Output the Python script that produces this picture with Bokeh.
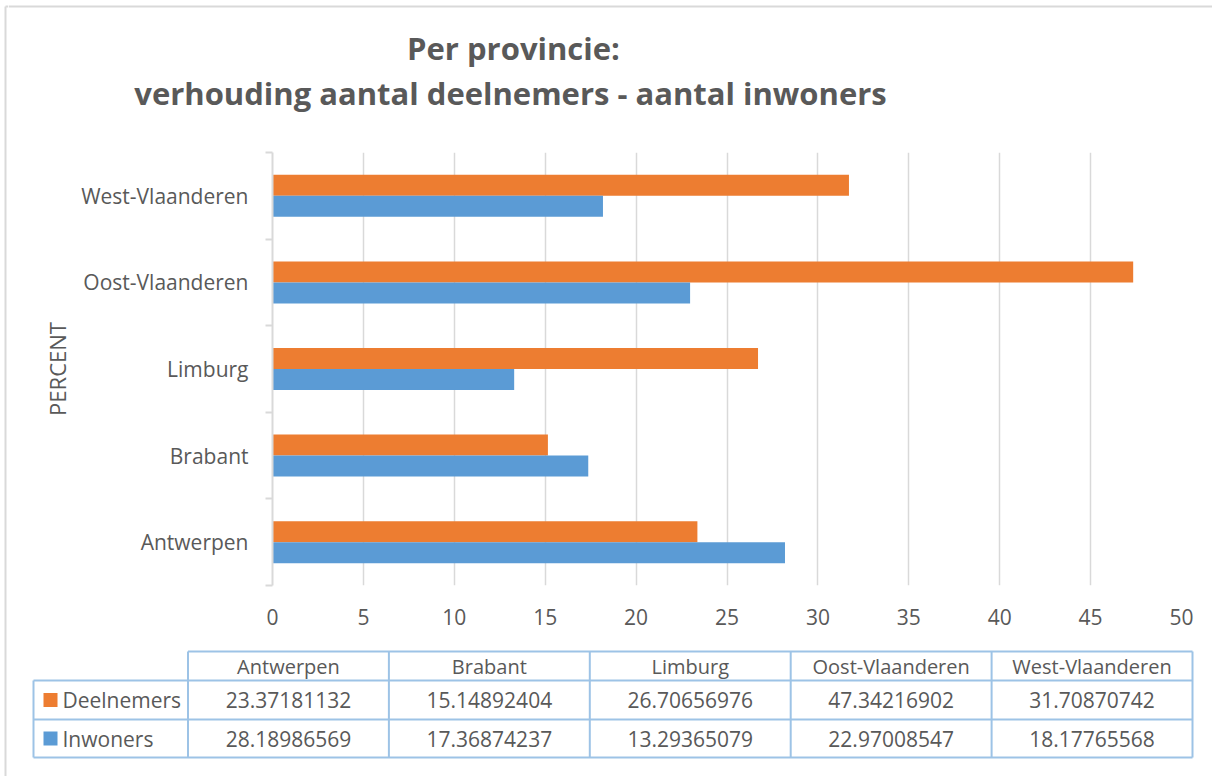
import math
from bokeh.plotting import figure
from bokeh.layouts import column, row
from bokeh.models import ColumnDataSource, Range1d, FixedTicker
from bokeh.transform import dodge
from bokeh.core.properties import value
from bokeh.embed import file_html
from bokeh.resources import INLINE

# ---------------- data ----------------
provinces = ["Antwerpen", "Brabant", "Limburg", "Oost-Vlaanderen", "West-Vlaanderen"]
deelnemers = [23.37181132, 15.14892404, 26.70656976, 47.34216902, 31.70870742]
inwoners = [28.18986569, 17.36874237, 13.29365079, 22.97008547, 18.17765568]
series_names = ["Deelnemers", "Inwoners"]
x_ticks = list(range(0, 51, 5))
title_lines = ["Per provincie:", "verhouding aantal deelnemers - aantal inwoners"]
y_axis_title = "PERCENT"

ORANGE = "#ED7D31"
BLUE = "#5B9BD5"
TEXT = "#595959"
GRID = "#D9D9D9"
EDGE = "#D9D9D9"
TBL = "#9DC3E6"
FONT = "Open Sans"

PW = 1212            # page width used
OX = 8               # width of the left strip carrying the chart-area border
W = PW - OX          # width of the main column
H0, H1, H2 = 140, 500, 136   # title band, chart band, table band
HT = H0 + H1 + H2


def blank(w, h):
    f = figure(width=w, height=h, output_backend="svg", toolbar_location=None,
               x_range=Range1d(0, w), y_range=Range1d(h, 0), min_border=0,
               outline_line_color=None, x_axis_location=None, y_axis_location=None,
               background_fill_color="white", border_fill_color="white",
               frame_align=False)
    f.xgrid.visible = False
    f.ygrid.visible = False
    return f


def gx(px):   # page x -> x inside the main column
    return px - OX


# ---------------- left strip (outer chart border) ----------------
strip = blank(OX, HT)
strip.segment(x0=[5, 5], y0=[6, 6], x1=[5, OX], y1=[HT, 6], line_color=EDGE, line_width=2)

# ---------------- title band ----------------
tt = blank(W, H0)
tt.segment(x0=[0], y0=[6], x1=[W], y1=[6], line_color=EDGE, line_width=2)
tt.text(x=[gx(513), gx(510)], y=[47, 92], text=title_lines, text_align="center",
        text_baseline="alphabetic", text_font=value(FONT), text_font_style="bold",
        text_font_size="31px", text_color=TEXT)

# ---------------- chart band ----------------
FL, FR, FT, FB = 272, 1181, 152, 585   # frame edges in page pixels
p = figure(width=W, height=H1, output_backend="svg", toolbar_location=None,
           x_range=Range1d(0, 50), y_range=Range1d(-0.5, len(provinces) - 0.5),
           min_border_left=gx(FL), min_border_right=PW - FR,
           min_border_top=FT - H0, min_border_bottom=H0 + H1 - FB,
           outline_line_color=None, background_fill_color="white",
           border_fill_color="white", frame_align=False)

src = ColumnDataSource(dict(idx=list(range(len(provinces))), prov=provinces,
                            d=deelnemers, i=inwoners))
bh = 0.2425
p.hbar(y=dodge("idx", bh / 2, range=p.y_range), right="d", left=0, height=bh,
       source=src, fill_color=ORANGE, line_color=None)
p.hbar(y=dodge("idx", -bh / 2, range=p.y_range), right="i", left=0, height=bh,
       source=src, fill_color=BLUE, line_color=None)

xa = p.xaxis[0]
xa.ticker = FixedTicker(ticks=x_ticks)
xa.axis_line_color = None
xa.major_tick_line_color = None
xa.minor_tick_line_color = None
xa.major_tick_out = 0
xa.major_tick_in = 0
xa.major_label_standoff = 23
xa.major_label_text_font = FONT
xa.major_label_text_font_size = "21px"
xa.major_label_text_color = TEXT

ya = p.yaxis[0]
ya.ticker = FixedTicker(ticks=list(range(len(provinces))),
                        minor_ticks=[k - 0.5 for k in range(len(provinces) + 1)])
ya.major_label_overrides = {k: name for k, name in enumerate(provinces)}
ya.axis_line_color = GRID
ya.axis_line_width = 2
ya.major_tick_line_color = None
ya.major_tick_out = 0
ya.major_tick_in = 0
ya.minor_tick_line_color = GRID
ya.minor_tick_line_width = 2
ya.minor_tick_out = 7
ya.minor_tick_in = 0
ya.major_label_standoff = 17
ya.major_label_text_font = FONT
ya.major_label_text_font_size = "21px"
ya.major_label_text_color = TEXT
ya.axis_label = y_axis_title
ya.axis_label_standoff = 6
ya.axis_label_text_font = FONT
ya.axis_label_text_font_style = "normal"
ya.axis_label_text_font_size = "22px"
ya.axis_label_text_color = TEXT

p.xgrid.ticker = FixedTicker(ticks=x_ticks)
p.xgrid.grid_line_color = GRID
p.xgrid.grid_line_width = 1.5
p.ygrid.grid_line_color = None

# ---------------- data table band ----------------
t = blank(W, H2)
OY = H0 + H1


def ty(py):
    return py - OY


ncol = len(provinces)
c0, cw = 187.5, 200.9
col_edges = [gx(c0 + k * cw) for k in range(ncol + 1)]
hdr_top, r1_top, r2_top, bot = 651, 680, 719, 757
left_edge = gx(33)

x0s, y0s, x1s, y1s = [], [], [], []
x0s.append(col_edges[0]); x1s.append(col_edges[-1]); y0s.append(ty(hdr_top)); y1s.append(ty(hdr_top))
for yy in (r1_top, r2_top, bot):
    x0s.append(left_edge); x1s.append(col_edges[-1]); y0s.append(ty(yy)); y1s.append(ty(yy))
x0s.append(left_edge); x1s.append(left_edge); y0s.append(ty(r1_top)); y1s.append(ty(bot))
for ce in col_edges:
    x0s.append(ce); x1s.append(ce); y0s.append(ty(hdr_top)); y1s.append(ty(bot))
t.segment(x0=x0s, y0=y0s, x1=x1s, y1=y1s, line_color=TBL, line_width=2)

centers = [(col_edges[k] + col_edges[k + 1]) / 2 for k in range(ncol)]
t.text(x=centers, y=[ty((hdr_top + r1_top) / 2)] * ncol, text=provinces,
       text_align="center", text_baseline="middle", text_font=value(FONT),
       text_font_size="20px", text_color=TEXT)
row_mid = [ty((r1_top + r2_top) / 2), ty((r2_top + bot) / 2)]
for r, vals in enumerate([deelnemers, inwoners]):
    t.text(x=centers, y=[row_mid[r]] * ncol, text=[f"{v:.8f}" for v in vals],
           text_align="center", text_baseline="middle", text_font=value(FONT),
           text_font_size="21px", text_color=TEXT)
t.text(x=[gx(62)] * 2, y=row_mid, text=series_names, text_align="left",
       text_baseline="middle", text_font=value(FONT), text_font_size="21px",
       text_color=TEXT)
t.rect(x=[gx(50)] * 2, y=row_mid, width=14, height=14, fill_color=[ORANGE, BLUE],
       line_color=None)

layout = row(strip, column(tt, p, t, spacing=0), spacing=0)
open("out.html", "w").write(file_html(layout, INLINE))
